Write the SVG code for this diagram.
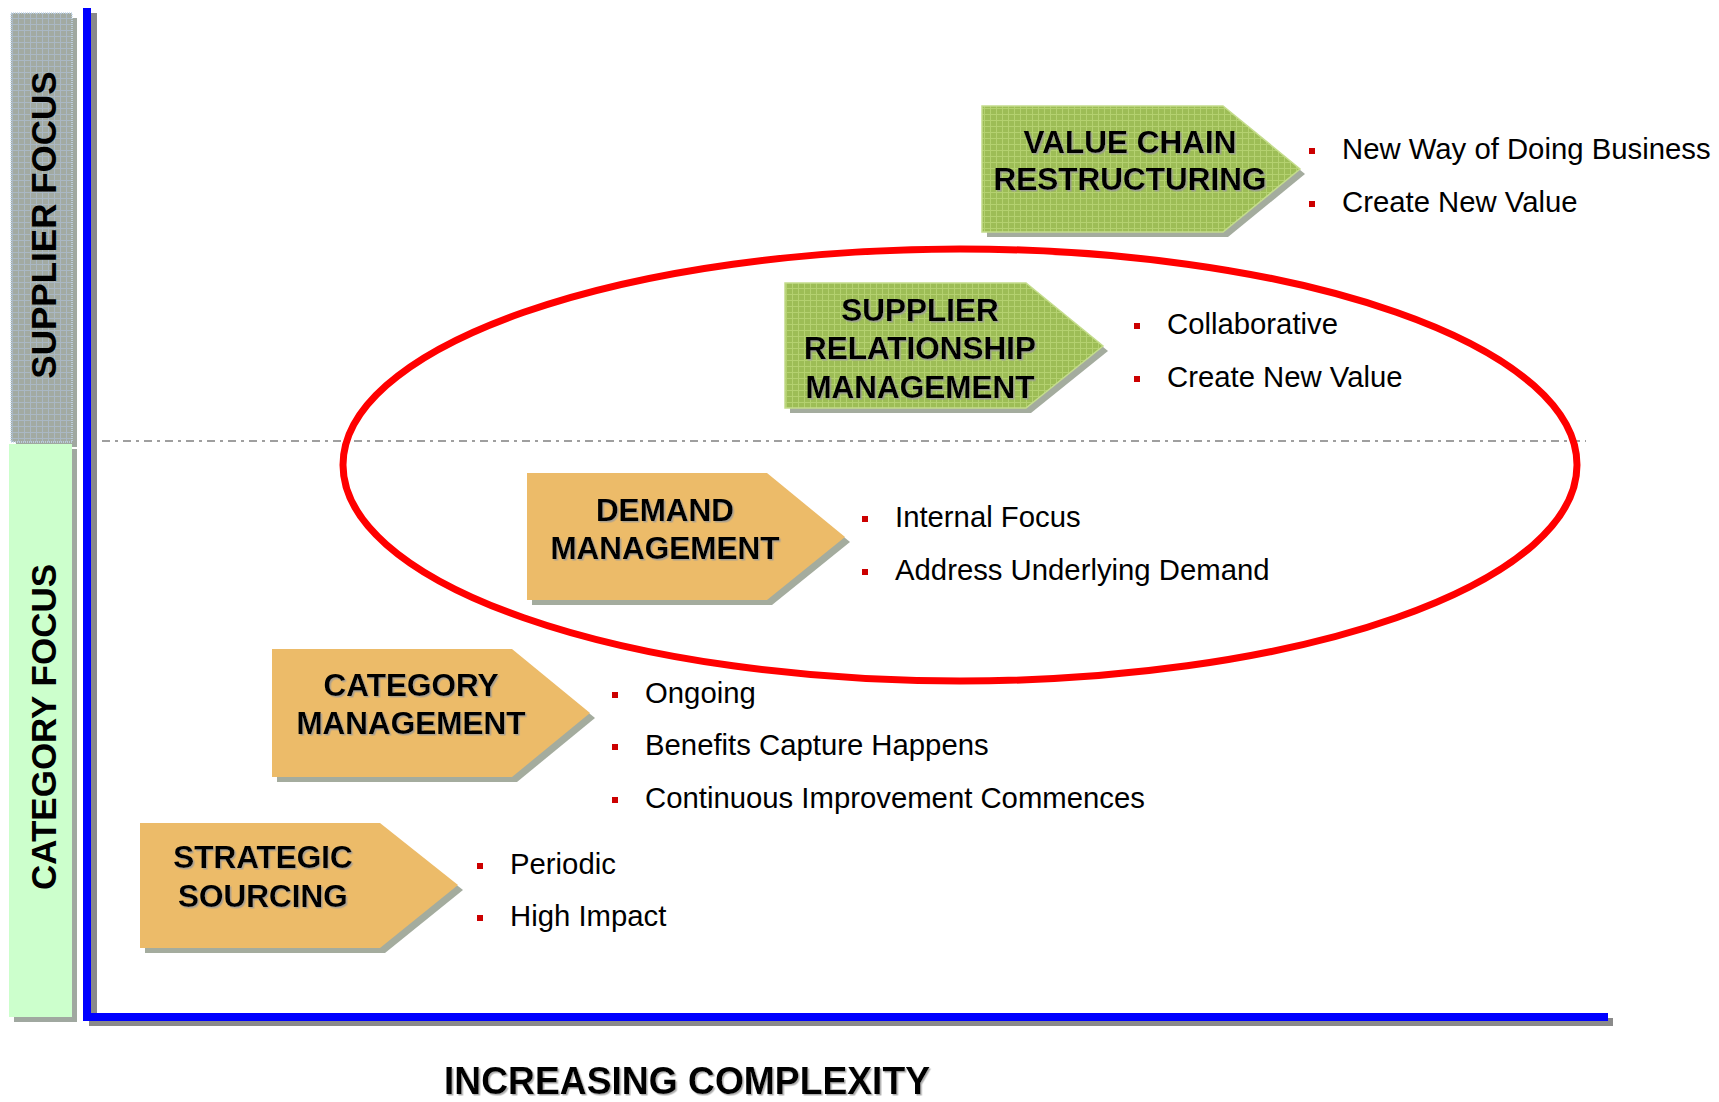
<svg xmlns="http://www.w3.org/2000/svg" width="1719" height="1102" viewBox="0 0 1719 1102">
<defs>
  <pattern id="greenTex" width="6" height="6" patternUnits="userSpaceOnUse">
    <rect width="6" height="6" fill="#9dbd56"/>
    <path d="M0 0.5H6M0.5 0V6" stroke="#b4d170" stroke-width="1"/>
  </pattern>
  <pattern id="grayTex" width="6" height="6" patternUnits="userSpaceOnUse">
    <rect width="6" height="6" fill="#a2aaa2"/>
    <path d="M0 0.5H6M0.5 0V6" stroke="#aab8c4" stroke-width="1"/>
  </pattern>
  <filter id="ts" x="-5%" y="-20%" width="110%" height="140%">
    <feDropShadow dx="1.5" dy="1.5" stdDeviation="0.6" flood-color="#9a9a9a" flood-opacity="0.8"/>
  </filter>
</defs>
<style>
  .lbl{font-family:"Liberation Sans",Arial,sans-serif;font-weight:bold;font-size:31.5px;fill:#000;text-anchor:middle}
  .side{font-family:"Liberation Sans",Arial,sans-serif;font-weight:bold;font-size:35px;fill:#000;text-anchor:middle}
  .bul{font-family:"Liberation Sans",Arial,sans-serif;font-size:29.3px;fill:#000}
  .sq{fill:#cc0000}
  .shadow{fill:#a4ac9e}
  .tan{fill:#ecbb69}
  .green{fill:url(#greenTex);stroke:#c4dc8c;stroke-width:1.5}
</style>
<rect width="1719" height="1102" fill="#ffffff"/>

<!-- side bars -->
<g id="supplier-focus-bar">
  <rect x="16" y="18" width="61" height="429" fill="#a0a8a0"/>
  <rect x="11" y="13" width="61" height="429" fill="url(#grayTex)" stroke="#c4d8ec" stroke-width="1.5" stroke-dasharray="1 1"/>
  <text class="side" transform="translate(56,225) rotate(-90)">SUPPLIER FOCUS</text>
</g>
<g id="category-focus-bar">
  <rect x="14" y="449" width="63" height="573" fill="#a0a8a0"/>
  <rect x="9" y="444" width="63" height="573" fill="#ccffcc"/>
  <text class="side" transform="translate(56,727) rotate(-90)">CATEGORY FOCUS</text>
</g>

<!-- axes -->
<g id="axes">
  <rect x="89" y="13" width="8" height="1012" fill="#8a8a8a"/>
  <rect x="89" y="1018" width="1524" height="8" fill="#8a8a8a"/>
  <rect x="83" y="8" width="8" height="1013" fill="#0000ff"/>
  <rect x="83" y="1013" width="1525" height="8" fill="#0000ff"/>
  <line x1="102" y1="441" x2="1586" y2="441" stroke="#808080" stroke-width="1.5" stroke-dasharray="8 5 3 5"/>
</g>

<g id="ellipse">
  <ellipse cx="960" cy="465" rx="617" ry="216" fill="none" stroke="#ff0000" stroke-width="7"/>
</g>

<!-- nodes -->
<g id="value-chain-restructuring">
  <polygon class="shadow" points="987,111 1228,111 1305,174 1228,237 987,237"/>
  <polygon class="green" points="982,106 1223,106 1300,169 1223,232 982,232"/>
  <g filter="url(#ts)">
    <text class="lbl" x="1130" y="153">VALUE CHAIN</text>
    <text class="lbl" x="1130" y="190">RESTRUCTURING</text>
  </g>
  <rect class="sq" x="1309" y="148" width="6" height="6"/>
  <text class="bul" x="1342" y="159">New Way of Doing Business</text>
  <rect class="sq" x="1309" y="201" width="6" height="6"/>
  <text class="bul" x="1342" y="212">Create New Value</text>
</g>

<g id="supplier-relationship-management">
  <polygon class="shadow" points="790,288 1031,288 1108,351 1031,413 790,413"/>
  <polygon class="green" points="785,283 1026,283 1103,346 1026,408 785,408"/>
  <g filter="url(#ts)">
    <text class="lbl" x="920" y="321">SUPPLIER</text>
    <text class="lbl" x="920" y="359">RELATIONSHIP</text>
    <text class="lbl" x="920" y="398">MANAGEMENT</text>
  </g>
  <rect class="sq" x="1134" y="323" width="6" height="6"/>
  <text class="bul" x="1167" y="334">Collaborative</text>
  <rect class="sq" x="1134" y="376" width="6" height="6"/>
  <text class="bul" x="1167" y="387">Create New Value</text>
</g>

<g id="demand-management">
  <polygon class="shadow" points="532,478 772,478 850,542 772,605 532,605"/>
  <polygon class="tan" points="527,473 767,473 845,537 767,600 527,600"/>
  <g filter="url(#ts)">
    <text class="lbl" x="665" y="521">DEMAND</text>
    <text class="lbl" x="665" y="559">MANAGEMENT</text>
  </g>
  <rect class="sq" x="862" y="516" width="6" height="6"/>
  <text class="bul" x="895" y="527">Internal Focus</text>
  <rect class="sq" x="862" y="569" width="6" height="6"/>
  <text class="bul" x="895" y="580">Address Underlying Demand</text>
</g>

<g id="category-management">
  <polygon class="shadow" points="277,654 517,654 595,718 517,782 277,782"/>
  <polygon class="tan" points="272,649 512,649 590,713 512,777 272,777"/>
  <g filter="url(#ts)">
    <text class="lbl" x="411" y="696">CATEGORY</text>
    <text class="lbl" x="411" y="734">MANAGEMENT</text>
  </g>
  <rect class="sq" x="612" y="692" width="6" height="6"/>
  <text class="bul" x="645" y="703">Ongoing</text>
  <rect class="sq" x="612" y="744" width="6" height="6"/>
  <text class="bul" x="645" y="755">Benefits Capture Happens</text>
  <rect class="sq" x="612" y="797" width="6" height="6"/>
  <text class="bul" x="645" y="808">Continuous Improvement Commences</text>
</g>

<g id="strategic-sourcing">
  <polygon class="shadow" points="145,828 385,828 463,890 385,953 145,953"/>
  <polygon class="tan" points="140,823 380,823 458,885 380,948 140,948"/>
  <g filter="url(#ts)">
    <text class="lbl" x="263" y="868">STRATEGIC</text>
    <text class="lbl" x="263" y="907">SOURCING</text>
  </g>
  <rect class="sq" x="477" y="863" width="6" height="6"/>
  <text class="bul" x="510" y="874">Periodic</text>
  <rect class="sq" x="477" y="915" width="6" height="6"/>
  <text class="bul" x="510" y="926">High Impact</text>
</g>

<g id="x-axis-label" filter="url(#ts)">
  <text x="444" y="1094" font-family="'Liberation Sans',Arial,sans-serif" font-weight="bold" font-size="38" textLength="486" lengthAdjust="spacingAndGlyphs">INCREASING COMPLEXITY</text>
</g>
</svg>
